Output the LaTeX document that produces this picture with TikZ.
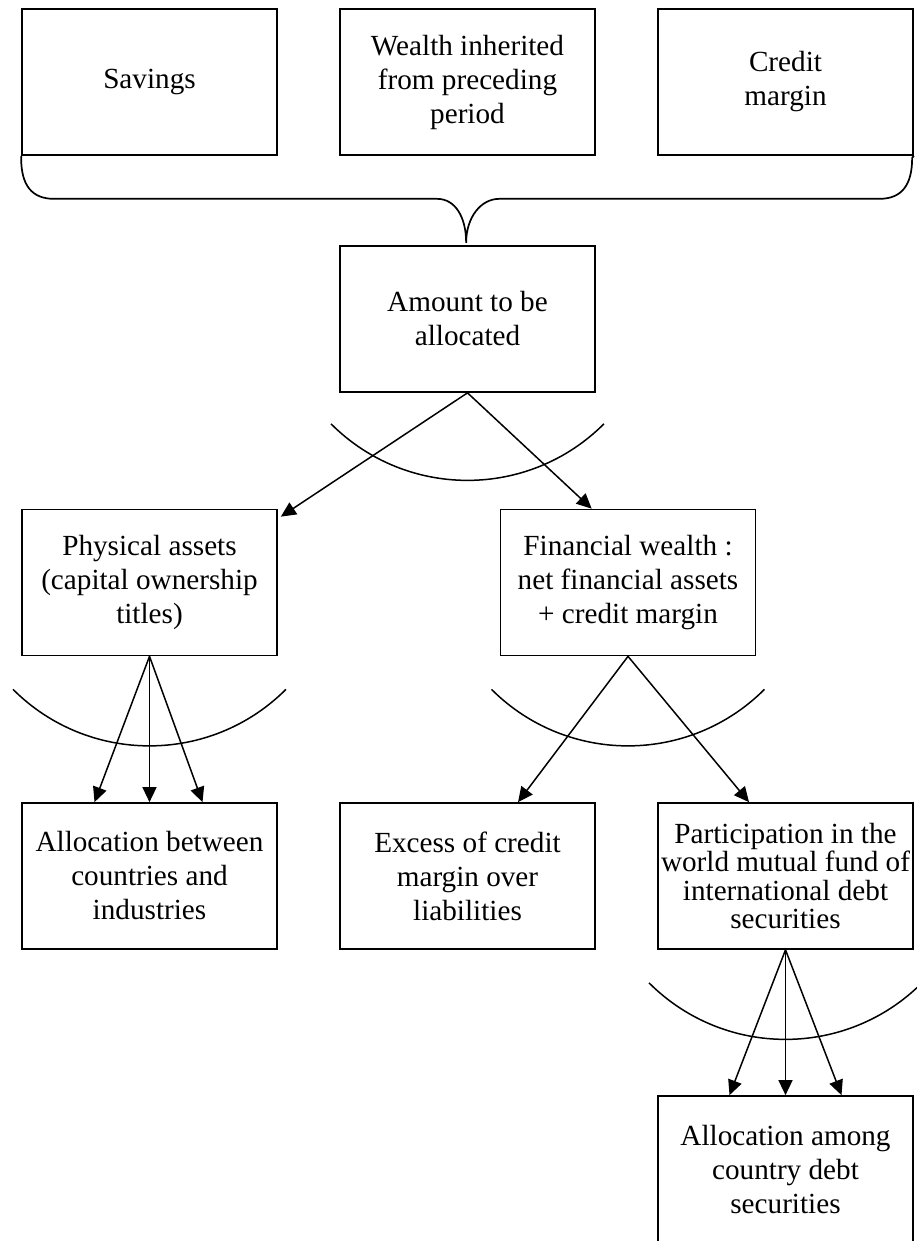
\documentclass[tikz,border=0pt]{standalone}
\usepackage{fontspec}
\setmainfont{Liberation Serif}
\usetikzlibrary{positioning,calc,arrows.meta}
\tikzstyle{box}=[draw,rectangle,line width=.85pt,minimum width=127.5pt,
minimum height=73pt,inner sep=0pt,align=center,font=\fontsize{14.6}{17}\selectfont]
\tikzstyle{box2}=[box,font=\fontsize{14.6}{14.2}\selectfont]
\tikzstyle{arr}=[-{Triangle[length=7.5pt,width=7pt]},line width=.75pt]

\begin{document}
\begin{tikzpicture}[x=.5pt, y=-.5pt, node distance=159pt, on grid]
  \useasboundingbox (0,0) rectangle (916,1241);

  \node[box] (sav) at (149.5,82) {Savings};
  \node[box, right=of sav] (wealth) {Wealth inherited\\from preceding\\period};
  \node[box, right=of wealth] (credit) {Credit\\margin};
  \node[box, below=118.5pt of wealth] (amount) {Amount to be\\allocated};
  \node[box] (phys) at (149.5,582.5) {Physical assets\\(capital ownership\\titles)};
  \node[box, right=239.25pt of phys] (fin) {Financial wealth :\\net financial assets\\+ credit margin};
  \node[box] (alloc) at (149.5,876) {Allocation between\\countries and\\industries};
  \node[box, right=of alloc] (excess) {Excess of credit\\margin over\\liabilities};
  \node[box2, right=of excess] (part) {Participation in the\\world mutual fund of\\international debt\\securities};
  \node[box, below=146.5pt of part] (among) {Allocation among\\country debt\\securities};

  % brace under the three sources
  \draw[line width=.85pt] (sav.south west) -- ++(0,2)
    .. controls +(0,28) and +(-22,0) .. ++(33,41) -- ++(383,0)
    .. controls +(18,0) and +(0,-26) .. ++(29,44)
    .. controls +(0,-26) and +(-18,0) .. ++(33,-44) -- ++(380,0)
    .. controls +(22,0) and +(0,28) .. ++(33,-41) -- (credit.south east);

  % arcs
  \draw[line width=.75pt] (amount.south) ++(-136.5,31) arc (225:315:96.5pt);
  \draw[line width=.75pt] (phys.south) ++(-136.5,33) arc (225:315:96.5pt);
  \draw[line width=.75pt] (fin.south) ++(-136.5,33) arc (225:315:96.5pt);
  \draw[line width=.75pt] (part.south) ++(-136.5,33) arc (225:315:96.5pt);

  \draw[arr] (amount.south) -- ($(phys.north east)+(3,8)$);
  \draw[arr] (amount.south) -- ($(fin.north west)+(92,0)$);
  \foreach \dx in {-55,0,53}
    \draw[arr] (phys.south) -- ($(alloc.north)+(\dx,0)$);
  \draw[arr] (fin.south) -- ($(excess.north)+(50.5,0)$);
  \draw[arr] (fin.south) -- ($(part.north)+(-36.5,0)$);
  \foreach \dx in {-56,0,56}
    \draw[arr] (part.south) -- ($(among.north)+(\dx,0)$);
\end{tikzpicture}
\end{document}
